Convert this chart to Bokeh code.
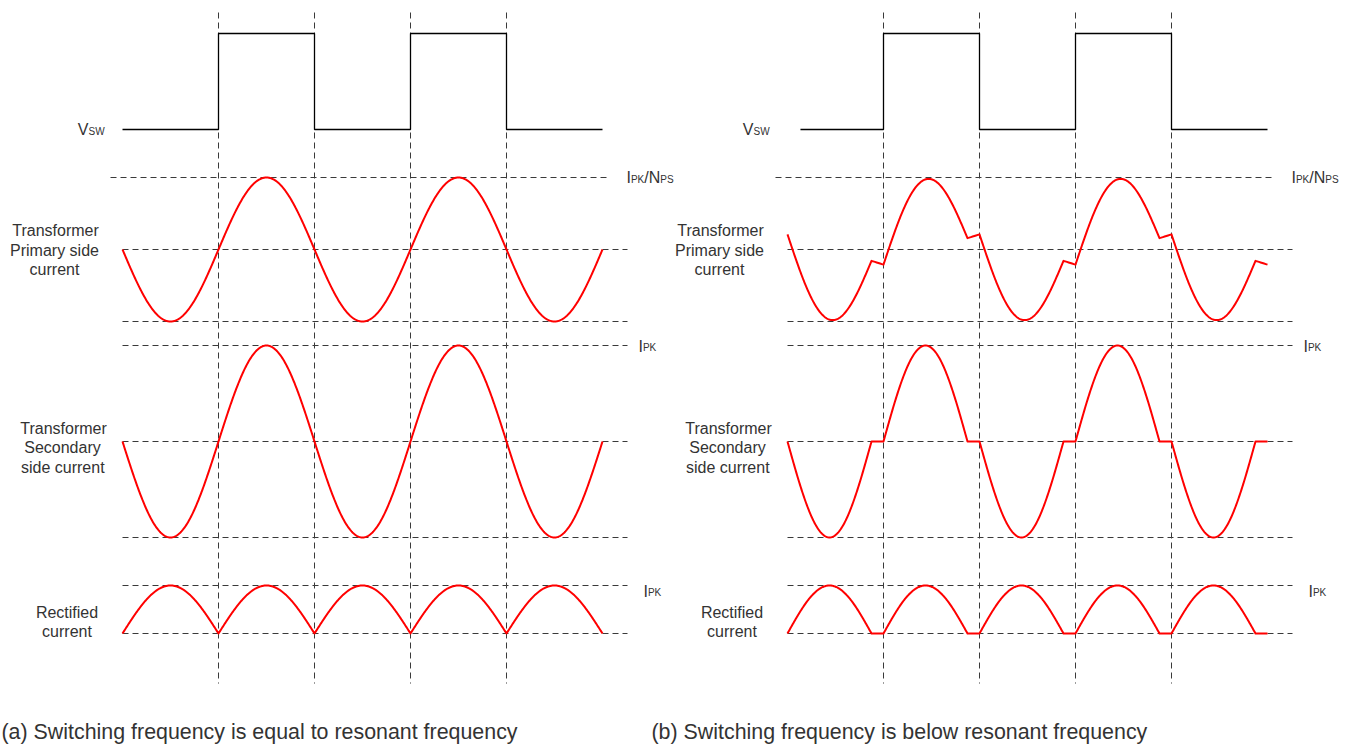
import numpy as np
from bokeh.plotting import figure
from bokeh.models import Range1d
from bokeh.core.properties import value
from bokeh.embed import file_html
from bokeh.resources import INLINE

# ---------------- data (normalized units) ----------------
# time is measured in switching half-periods
switch_times = [1, 2, 3, 4]                 # gate edges (vertical dashed markers)
vsw_levels = [0, 1, 0, 1, 0]                # switch-node level in each half period
lobe_sign = [-1, 1, -1, 1, -1]              # polarity of resonant lobe per half period
res_half_a = 1.0                            # resonant half period / switching half period (a)
res_half_b = 0.875                          # (b) below resonance
mag_peak_a = 0.0                            # magnetizing current peak (rel. to IPK/NPS)
mag_peak_b = 0.21
pri_peak = 1.0                              # IPK/NPS
sec_peak = 1.0                              # IPK
vsw_start_b = 0.135

label_pri = ["Transformer", "Primary side", "current"]
label_sec = ["Transformer", "Secondary", "side current"]
label_rect = ["Rectified", "current"]
caption_a = "(a) Switching frequency is equal to resonant frequency"
caption_b = "(b) Switching frequency is below resonant frequency"

# ---------------- layout ----------------
W, H = 1351, 747
SX0, SY0 = 0, 0
HALF = 96.0              # px per half period
ORIGIN = {"a": 122.0, "b": 787.0}
PANEL_DX = 665.0
FONT = value("Liberation Sans")
TXT = "#333333"
DASH_C = "#3a3a3a"
DY = -5.5                # baseline correction for the small labels

p = figure(width=W, height=H, x_range=Range1d(SX0, SX0 + W), y_range=Range1d(SY0 + H, SY0),
           output_backend="svg", toolbar_location=None, min_border=0,
           x_axis_location=None, y_axis_location=None)
p.grid.visible = False
p.outline_line_color = None
p.background_fill_color = "white"
p.border_fill_color = "white"

for key, org in ORIGIN.items():
    p.extra_x_ranges["t" + key] = Range1d((SX0 - org) / HALF, (SX0 + W - org) / HALF)


def band(px1, px0):
    s = px0 - px1
    return Range1d((px0 - (SY0 + H)) / s, (px0 - SY0) / s)


p.extra_y_ranges["vsw"] = band(33, 129)
p.extra_y_ranges["pri"] = band(177, 249)
p.extra_y_ranges["sec"] = band(345, 441)
p.extra_y_ranges["rect"] = band(585, 633)


def waveforms(res_half, mag_peak):
    ts, pri, sec = [], [], []
    for k, sgn in enumerate(lobe_sign):
        tau = np.unique(np.concatenate([np.linspace(0, res_half, 160),
                                        np.linspace(res_half, 1, 8)]))
        shape = np.where(tau <= res_half,
                         sgn * np.sin(np.pi * np.minimum(tau / res_half, 1.0)), 0.0)
        mag = -sgn * mag_peak * (1 - 2 * tau)
        ts.append(k + tau)
        sec.append(sec_peak * shape)
        pri.append(pri_peak * shape + mag)
    return np.concatenate(ts), np.concatenate(pri), np.concatenate(sec)


def txt(x, y, s, size, align="left"):
    p.text(x=[x], y=[y], text=[s], text_font=FONT, text_font_size=f"{size}px",
           text_color=TXT, text_align=align, text_baseline="alphabetic")


for key, res_half, mag_peak, vstart in (("a", res_half_a, mag_peak_a, 0.0),
                                        ("b", res_half_b, mag_peak_b, vsw_start_b)):
    xr = "t" + key
    dx = 0.0 if key == "a" else PANEL_DX
    # vertical dashed markers
    p.segment(x0=switch_times, x1=switch_times, y0=[12] * 4, y1=[683] * 4, x_range_name=xr,
              line_color=DASH_C, line_width=1, line_dash="6 4")
    # horizontal dashed reference levels
    end_long = (627 - 122) / HALF
    refs = [("pri", [1], -0.125, (610 - 122) / HALF),
            ("pri", [0, -1], 0.0, end_long),
            ("sec", [1, 0, -1], 0.0, end_long),
            ("rect", [1, 0], 0.0, end_long)]
    for yr, levels, t0, t1 in refs:
        p.segment(x0=[t0] * len(levels), x1=[t1] * len(levels), y0=levels, y1=levels,
                  x_range_name=xr, y_range_name=yr, line_color=DASH_C, line_width=1,
                  line_dash="6 4")
    # switch-node voltage
    vx, vy = [], []
    for k, lvl in enumerate(vsw_levels):
        vx += [max(k, vstart), k + 1]
        vy += [lvl, lvl]
    p.line(vx, vy, x_range_name=xr, y_range_name="vsw", line_color="black", line_width=1.3)
    # currents
    t, pri, sec = waveforms(res_half, mag_peak)
    for yr, ys in (("pri", pri), ("sec", sec), ("rect", np.abs(sec))):
        p.line(t, ys, x_range_name=xr, y_range_name=yr, line_color="#ff0000", line_width=2,
               line_join="round")

    # labels
    txt(88 + dx, 134.3 + DY, "V", 16, "right")
    txt(88 + dx, 136 + DY, "SW", 10)
    for s, cx, by in zip(label_pri, [55, 54, 54], [235.5, 255, 274.5]):
        txt(cx + dx, by + DY, s, 16, "center")
    for s, cx, by in zip(label_sec, [63, 62, 62.3], [433, 452.5, 472]):
        txt(cx + dx, by + DY, s, 16, "center")
    for s, cx, by in zip(label_rect, [66.5, 66.5], [617.3, 636.8]):
        txt(cx + dx, by + DY, s, 16, "center")
    # IPK/NPS
    x = 626 + dx
    txt(x, 182.7 + DY, "I", 16); x += 4.45
    txt(x, 184 + DY, "PK", 10); x += 13.34
    txt(x, 182.7 + DY, "/N", 16); x += 16.0
    txt(x, 184 + DY, "PS", 10)
    # IPK (secondary and rectified)
    for x0, by in ((638 + dx, 351), (643 + dx, 596)):
        txt(x0, by + DY, "I", 16)
        txt(x0 + 4.45, by + 1.3 + DY, "PK", 10)

txt(1, 731, caption_a, 21.4)
txt(651, 731, caption_b, 21.4)

open("out.html", "w").write(file_html(p, INLINE))
